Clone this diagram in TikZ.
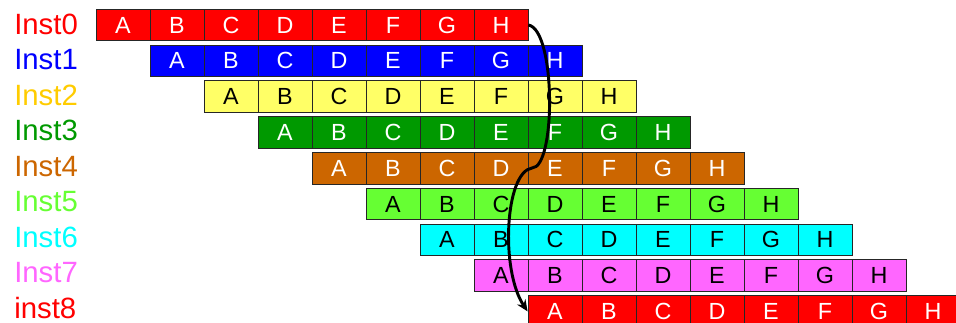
\documentclass[tikz,border=0pt]{standalone}
\usepackage{fontspec}
\setmainfont{Liberation Sans}
\usetikzlibrary{arrows.meta}
\definecolor{ired}{RGB}{255,0,0}
\definecolor{iblue}{RGB}{0,0,255}
\definecolor{iyellow}{RGB}{255,255,102}
\definecolor{igold}{RGB}{255,204,0}
\definecolor{igreen}{RGB}{0,153,0}
\definecolor{iorange}{RGB}{204,102,0}
\definecolor{ilime}{RGB}{102,255,51}
\definecolor{icyan}{RGB}{0,255,255}
\definecolor{ipink}{RGB}{255,102,255}
\tikzset{
  cell/.style={draw=black!85, line width=0.6pt, minimum width=40.5pt,
    minimum height=23.6pt, inner sep=0pt, font=\fontsize{17.5}{18}\selectfont},
  lab/.style={anchor=base west, inner sep=0pt, text depth=0pt,
    font=\fontsize{22}{24}\selectfont},
  flow/.style={-{Stealth[length=3mm,width=2.6mm]}, line width=2.2pt, black},
}

\begin{document}
\begin{tikzpicture}[x=0.75pt,y=-0.75pt]
\clip (0,0) rectangle (956,323);
% one row per instance, shifted by one slot each
\foreach \r/\fc/\lc/\tc/\name in {0/ired/ired/white/Inst0, 1/iblue/iblue/white/Inst1,
    2/iyellow/igold/black/Inst2, 3/igreen/igreen/white/Inst3, 4/iorange/iorange/white/Inst4,
    5/ilime/ilime/black/Inst5, 6/icyan/icyan/black/Inst6, 7/ipink/ipink/black/Inst7,
    8/ired/ired/white/inst8} {
  \node[lab, text=\lc] (l-\r) at (14,34.3+35.5*\r) {\name};
  \foreach \k [count=\c] in {A,...,H}
    \node[cell, fill=\fc, text=\tc] (c-\r-\c) at (69+54*\r+54*\c,25+35.8*\r) {\k};
}
% dependency from the last slot of Inst0 to the first of inst8
\coordinate (bend) at (532,168);
\draw[flow] (c-0-8.east) .. controls (556,30) and (556,168) .. (bend)
  .. controls (505,172) and (500,270) .. (c-8-1.west);
\end{tikzpicture}
\end{document}
